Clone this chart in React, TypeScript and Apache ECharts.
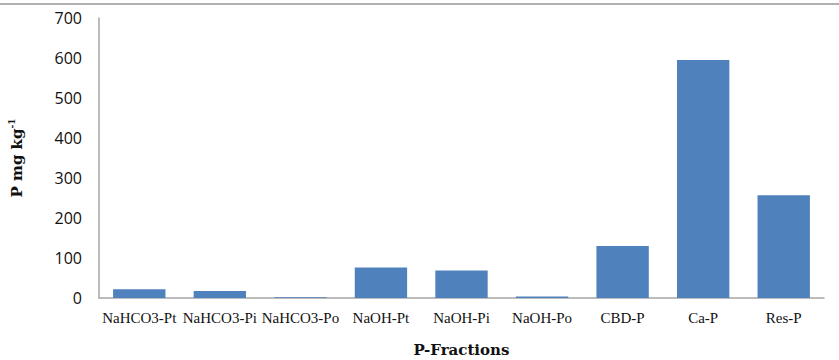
import React, { useEffect, useRef } from "react";
import * as echarts from "echarts";

const categories = ["NaHCO3-Pt", "NaHCO3-Pi", "NaHCO3-Po", "NaOH-Pt", "NaOH-Pi", "NaOH-Po", "CBD-P", "Ca-P", "Res-P"];
const values = [22, 17.5, 2, 76, 69, 4, 130, 595, 257];
const yTicks = { min: 0, max: 700, interval: 100 };

export default function App() {
  const ref = useRef<HTMLDivElement>(null);
  useEffect(() => {
    if (!ref.current) return;
    const chart = echarts.init(ref.current, null, { renderer: "svg" });
    chart.setOption({
      animation: false,
      backgroundColor: "#ffffff",
      grid: { left: 99, right: 15, top: 18, bottom: 62, containLabel: false, outerBoundsMode: "none" },
      graphic: [
        { type: "line", shape: { x1: 0, y1: 4, x2: 839, y2: 4 }, style: { stroke: "#b0b0b0", lineWidth: 2 } },
      ],
      xAxis: {
        type: "category",
        data: categories,
        name: "P-Fractions",
        nameLocation: "middle",
        nameGap: 44,
        nameTextStyle: { fontFamily: "DejaVu Serif", fontWeight: "bold", fontSize: 15, color: "#111" },
        axisLine: { lineStyle: { color: "#a6a6a6", width: 1.5 } },
        axisTick: { show: false },
        axisLabel: { fontFamily: "Liberation Serif", fontSize: 15, color: "#111", margin: 12, interval: 0 },
      },
      yAxis: {
        type: "value",
        min: yTicks.min,
        max: yTicks.max,
        interval: yTicks.interval,
        name: "{m|P mg kg}{s|-1}",
        nameLocation: "middle",
        nameRotate: 90,
        nameGap: 72,
        nameTextStyle: {
          rich: {
            m: { fontFamily: "DejaVu Serif", fontWeight: "bold", fontSize: 15, color: "#111", lineHeight: 20 },
            s: { fontFamily: "DejaVu Serif", fontWeight: "bold", fontSize: 9, color: "#111", verticalAlign: "top", lineHeight: 20, padding: [0, 0, 8, 0] },
          },
        },
        splitLine: { show: false },
        axisLine: { show: true, lineStyle: { color: "#a6a6a6", width: 1.5 } },
        axisTick: { show: false },
        axisLabel: { fontFamily: "Open Sans", fontSize: 16, color: "#111", margin: 17 },
      },
      series: [
        {
          type: "bar",
          data: values,
          barCategoryGap: "35%",
          itemStyle: { color: "#4f81bd" },
        },
      ],
    });
    return () => chart.dispose();
  }, []);
  return <div ref={ref} style={{ position: "fixed", left: 0, top: 0, width: 839, height: 360 }} />;
}
